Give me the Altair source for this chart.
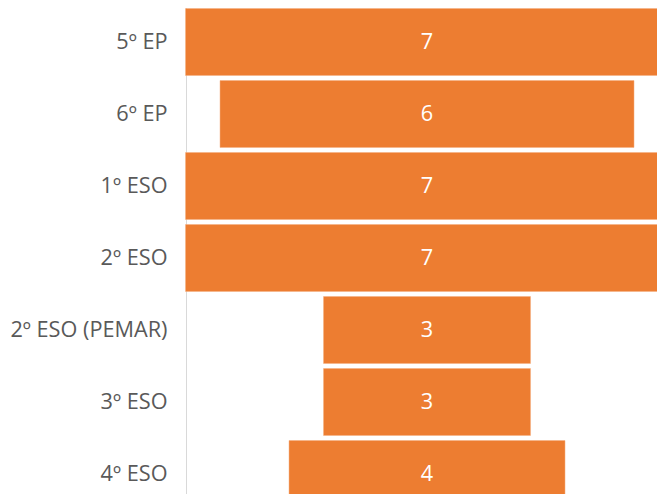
import altair as alt
import pandas as pd

categories = ["5º EP", "6º EP", "1º ESO", "2º ESO", "2º ESO (PEMAR)", "3º ESO", "4º ESO"]
values = [7, 6, 7, 7, 3, 3, 4]

df = pd.DataFrame({"cat": categories, "value": values})
df["lo"] = -df["value"] / 2
df["hi"] = df["value"] / 2
df["mid"] = 0.0

xscale = alt.Scale(domain=[-3.493, 3.333], nice=False, zero=False)

y = alt.Y("cat:N", sort=categories, title=None,
          scale=alt.Scale(paddingInner=0.07, paddingOuter=0.035, range=[-2, 502]),
          axis=alt.Axis(domainColor="#D9D9D9", domainWidth=1, ticks=False,
                        labelFontSize=21.7, labelColor="#595959", labelFont="Open Sans",
                        labelPadding=19, grid=False, labelLimit=300))

bars = alt.Chart(df).mark_bar(color="#ED7D31", stroke="#F4B183", strokeWidth=0.5).encode(
    x=alt.X("lo:Q", scale=xscale, axis=None),
    x2="hi:Q",
    y=y,
)

labels = alt.Chart(df).mark_text(color="white", fontSize=21.7, font="Open Sans").encode(
    x=alt.X("mid:Q", scale=xscale, axis=None),
    y=alt.Y("cat:N", sort=categories),
    text="value:Q",
)

chart = (bars + labels).properties(
    width=471, height=486,
    autosize=alt.AutoSizeParams(type="none"),
    padding={"left": 178, "top": 0, "right": 0, "bottom": 0},
).configure_view(stroke=None)

chart.save("out.html", embed_options={"renderer": "svg", "actions": False})
